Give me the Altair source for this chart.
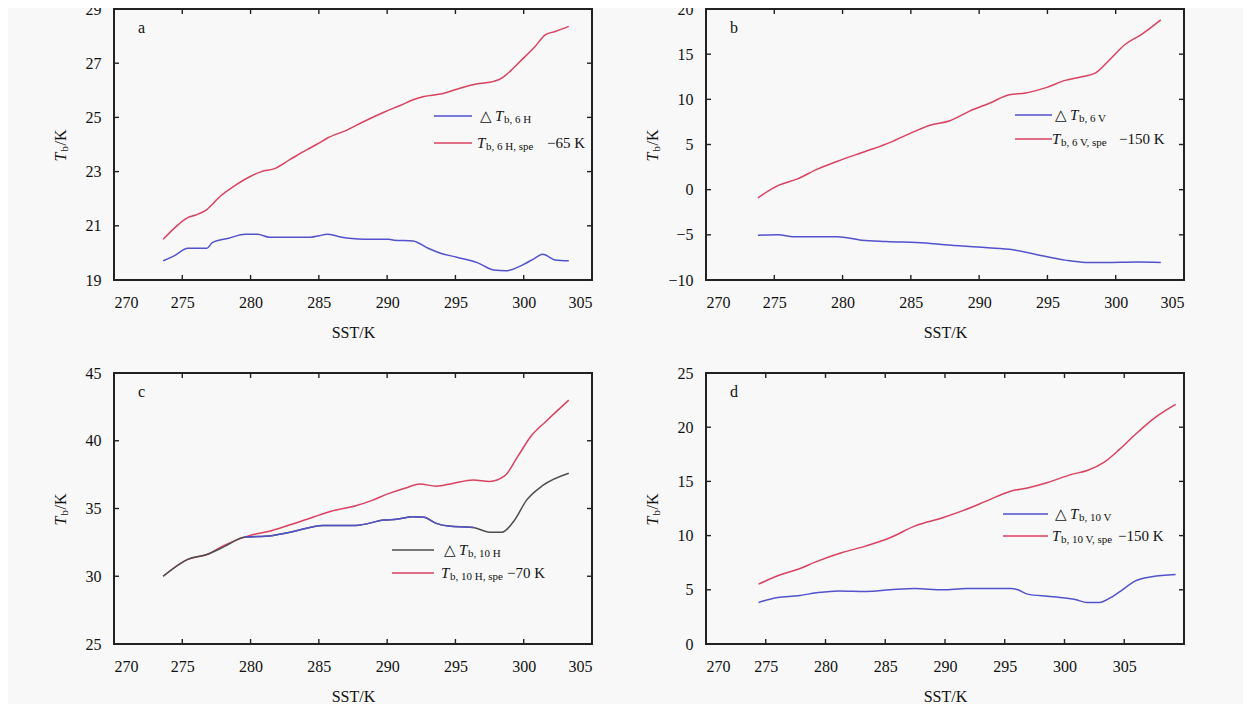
import altair as alt
import pandas as pd

# ---------------- data ----------------
a_spe_x = [273.6, 274.5, 275.4, 276.0, 276.8, 277.8, 278.9, 279.9, 280.8, 281.7, 282.9, 284.1, 285.0, 285.6,
           287.1, 288.3, 289.8, 291.0, 291.9, 292.7, 293.9, 295.1, 296.6, 297.8, 298.4, 299.0, 299.6, 300.8,
           301.6, 302.3, 303.3]
a_spe_y = [20.5, 20.95, 21.3, 21.4, 21.6, 22.1, 22.5, 22.8, 23.0, 23.1, 23.45, 23.8, 24.05, 24.23,
           24.54, 24.85, 25.2, 25.45, 25.65, 25.77, 25.86, 26.04, 26.24, 26.33, 26.45, 26.7, 27.0, 27.6,
           28.05, 28.17, 28.36]
a_dlt_x = [273.6, 274.5, 275.4, 276.8, 277.2, 278.4, 279.6, 280.5, 281.4, 282.9, 284.4, 285.0, 285.6, 286.5,
           287.4, 288.3, 290.1, 290.5, 291.9, 293.0, 293.9, 295.1, 296.6, 297.8, 298.7, 299.9, 300.8, 301.4,
           302.3, 303.3]
a_dlt_y = [19.71, 19.92, 20.17, 20.17, 20.38, 20.54, 20.69, 20.69, 20.58, 20.58, 20.58, 20.63, 20.69, 20.6,
           20.53, 20.5, 20.5, 20.47, 20.44, 20.17, 19.99, 19.84, 19.64, 19.37, 19.34, 19.55, 19.8, 19.95,
           19.74, 19.71]

b_spe_x = [273.8, 275.3, 276.7, 278.2, 279.9, 281.7, 283.5, 285.2, 286.4, 287.8, 289.3, 290.8, 292.2, 293.4,
           294.9, 296.3, 297.5, 298.5, 299.5, 300.7, 301.9, 303.3]
b_spe_y = [-0.9, 0.47, 1.2, 2.3, 3.3, 4.25, 5.24, 6.4, 7.14, 7.6, 8.7, 9.6, 10.5, 10.7,
           11.3, 12.1, 12.5, 12.9, 14.3, 16.1, 17.2, 18.8]
b_dlt_x = [273.8, 275.3, 276.4, 279.6, 281.4, 283.2, 286.1, 287.5, 289.9, 292.2, 294.9, 296.3, 297.8, 299.2,
           301.6, 303.3]
b_dlt_y = [-5.05, -5.0, -5.2, -5.2, -5.6, -5.75, -5.9, -6.1, -6.35, -6.6, -7.4, -7.8, -8.05, -8.05,
           -8.0, -8.05]

c_spe_x = [273.6, 275.4, 276.8, 278.1, 279.9, 281.3, 282.9, 284.4, 285.9, 287.7, 288.9, 290.1, 291.3, 292.4,
           293.6, 294.8, 296.3, 297.5, 298.6, 299.6, 300.5, 301.7, 303.3]
c_spe_y = [30.0, 31.25, 31.6, 32.3, 33.0, 33.3, 33.8, 34.3, 34.8, 35.2, 35.6, 36.1, 36.5, 36.8,
           36.65, 36.85, 37.1, 37.0, 37.4, 38.9, 40.3, 41.5, 43.0]
c_dlt_x = [273.6, 275.4, 276.8, 278.1, 279.6, 281.1, 282.9, 285.3, 287.7, 289.8, 290.7, 291.9, 292.7, 293.6,
           294.5, 296.3, 297.5, 298.4, 299.3, 300.2, 301.4, 303.3]
c_dlt_y = [30.0, 31.25, 31.6, 32.2, 32.9, 32.95, 33.25, 33.75, 33.75, 34.15, 34.2, 34.4, 34.35, 33.9,
           33.7, 33.6, 33.25, 33.25, 34.1, 35.6, 36.7, 37.6]

d_spe_x = [274.4, 276.0, 277.7, 279.4, 281.4, 283.4, 285.4, 287.5, 289.8, 291.5, 293.5, 295.5, 296.9, 298.6,
           300.6, 301.9, 303.3, 304.6, 305.9, 307.6, 309.3]
d_spe_y = [5.52, 6.3, 6.9, 7.67, 8.44, 9.05, 9.8, 10.9, 11.65, 12.3, 13.2, 14.1, 14.4, 14.9,
           15.65, 16.0, 16.75, 17.95, 19.3, 20.9, 22.1]
d_dlt_x = [274.4, 276.0, 277.7, 279.4, 281.1, 283.4, 285.4, 287.5, 289.8, 291.8, 294.1, 295.5, 296.1, 296.9,
           298.6, 299.6, 300.9, 301.9, 302.9, 303.9, 304.9, 305.9, 307.3, 309.3]
d_dlt_y = [3.83, 4.3, 4.45, 4.75, 4.9, 4.85, 5.0, 5.12, 5.0, 5.12, 5.12, 5.12, 5.0, 4.6,
           4.4, 4.3, 4.1, 3.83, 3.83, 4.3, 5.05, 5.8, 6.2, 6.4]

x_ticks = [270, 275, 280, 285, 290, 295, 300, 305]
a_y_ticks = [19, 21, 23, 25, 27, 29]
b_y_ticks = [-10, -5, 0, 5, 10, 15, 20]
c_y_ticks = [25, 30, 35, 40, 45]
d_y_ticks = [0, 5, 10, 15, 20, 25]

panel_letters = ["a", "b", "c", "d"]
delta_subs = ["b, 6 H", "b, 6 V", "b, 10 H", "b, 10 V"]
spe_subs = ["b, 6 H, spe", "b, 6 V, spe", "b, 10 H, spe", "b, 10 V, spe"]
spe_offsets = ["\u221265 K", "\u2212150 K", "\u221270 K", "\u2212150 K"]
x_title = "SST/K"

# ---------------- style ----------------
FONT = "Liberation Serif"
W, H = 478, 271
BLUE = "#5252cc"
RED = "#d9425f"
GRAY = "#4d4d4d"
FRAME = "#222222"
BG = "#f8f8f8"
TK = 5  # inward tick length


def one():
    return pd.DataFrame({"v": [0]})


def txt(s, x, y, size=15, italic=False, angle=0, dx=0, dy=0, align="left", baseline="middle"):
    props = dict(text=s, font=FONT, fontSize=size, align=align, baseline=baseline,
                 color="#111111", dx=dx, dy=dy)
    if italic:
        props["fontStyle"] = "italic"
    if angle:
        props["angle"] = angle
    return alt.Chart(one()).mark_text(**props).encode(x=alt.value(x), y=alt.value(y))


def hline(x1, x2, y, color, width=1.6):
    return alt.Chart(one()).mark_rule(color=color, strokeWidth=width).encode(
        x=alt.value(x1), x2=alt.value(x2), y=alt.value(y))


def box(x1, x2, y1, y2, color):
    return alt.Chart(one()).mark_rect(color=color, opacity=1).encode(
        x=alt.value(x1), x2=alt.value(x2), y=alt.value(y1), y2=alt.value(y2))


def panel(i, sx, sy, dx_, dy_, xdom, ydom, yticks, leg, delta_color, blue_range=None):
    xs = alt.Scale(domain=xdom, nice=False, zero=False)
    ys = alt.Scale(domain=ydom, nice=False, zero=False)
    xax = alt.Axis(values=x_ticks, format="d", title=x_title, grid=False, domain=False, ticks=False,
                   labelPadding=14, titlePadding=14)
    yax = alt.Axis(values=yticks, format="d", title=None, grid=False, domain=False, ticks=False,
                   labelPadding=13)

    spe = pd.DataFrame({"x": sx, "y": sy})
    dlt = pd.DataFrame({"x": dx_, "y": dy_})
    xt = pd.DataFrame({"t": x_ticks})
    yt = pd.DataFrame({"t": yticks})
    tick = dict(color=FRAME, thickness=1.4, size=TK, opacity=1)

    layers = []
    # frame drawn as a dark box with the plot-coloured box on top of it
    layers.append(box(-1, W + 1, -1, H + 1, FRAME))
    layers.append(box(1, W - 1, 1, H - 1, BG))

    # inward ticks on all four sides
    layers.append(alt.Chart(xt).mark_tick(**tick).encode(
        x=alt.X("t:Q", scale=xs, axis=xax), y=alt.value(H - TK / 2)))
    layers.append(alt.Chart(xt).mark_tick(**tick).encode(
        x=alt.X("t:Q", scale=xs), y=alt.value(TK / 2)))
    layers.append(alt.Chart(yt).mark_tick(**tick).encode(
        y=alt.Y("t:Q", scale=ys, axis=yax), x=alt.value(TK / 2)))
    layers.append(alt.Chart(yt).mark_tick(**tick).encode(
        y=alt.Y("t:Q", scale=ys), x=alt.value(W - TK / 2)))

    layers.append(alt.Chart(spe).mark_line(color=RED, strokeWidth=1.5, interpolate="monotone").encode(
        x=alt.X("x:Q", scale=xs), y=alt.Y("y:Q", scale=ys)))
    layers.append(alt.Chart(dlt).mark_line(color=delta_color, strokeWidth=1.5, interpolate="monotone").encode(
        x=alt.X("x:Q", scale=xs), y=alt.Y("y:Q", scale=ys)))
    if blue_range is not None:
        layers.append(alt.Chart(dlt).transform_filter(
            (alt.datum.x >= blue_range[0]) & (alt.datum.x <= blue_range[1])
        ).mark_line(color=BLUE, strokeWidth=1.5, interpolate="monotone").encode(
            x=alt.X("x:Q", scale=xs), y=alt.Y("y:Q", scale=ys)))

    # panel letter
    layers.append(txt(panel_letters[i], 24, 19, size=16))

    # y-axis title  T_b/K  (rotated)
    layers.append(txt("T", -53, H / 2, size=16, italic=True, angle=270, dx=-17))
    layers.append(txt("b", -53, H / 2, size=11, angle=270, dx=-7, dy=4))
    layers.append(txt("/K", -53, H / 2, size=16, angle=270, dx=-1))

    # legend
    lx1, lx2, ly1, ly2, tx, ox = leg
    layers.append(hline(lx1, lx2, ly1, delta_color))
    layers.append(hline(lx1, lx2, ly2, RED))
    layers.append(txt("\u25b3", tx, ly1, size=15))
    layers.append(txt("T", tx + 15, ly1, size=15, italic=True))
    layers.append(txt(delta_subs[i], tx + 24, ly1 + 4, size=11))
    layers.append(txt("T", tx - 3, ly2, size=15, italic=True))
    layers.append(txt(spe_subs[i], tx + 6, ly2 + 4, size=11))
    layers.append(txt(spe_offsets[i], ox, ly2, size=15))

    return alt.layer(*layers).properties(width=W, height=H)


pa = panel(0, a_spe_x, a_spe_y, a_dlt_x, a_dlt_y, [270, 305], [19, 29], a_y_ticks,
           (320, 358, 107, 134, 366, 433), BLUE)
pb = panel(1, b_spe_x, b_spe_y, b_dlt_x, b_dlt_y, [270, 305], [-10, 20], b_y_ticks,
           (309, 346, 106, 130, 349, 413), BLUE)
pc = panel(2, c_spe_x, c_spe_y, c_dlt_x, c_dlt_y, [270, 305], [25, 45], c_y_ticks,
           (278, 320, 177, 200, 330, 393), GRAY, blue_range=(279.6, 296.3))
pd_ = panel(3, d_spe_x, d_spe_y, d_dlt_x, d_dlt_y, [270, 310], [0, 25], d_y_ticks,
            (297, 342, 141, 163, 349, 412), BLUE)

row1 = alt.hconcat(pa, pb, spacing=52)
row2 = alt.hconcat(pc, pd_, spacing=52)
chart = alt.vconcat(row1, row2, spacing=25).properties(
    background=BG,
    padding={"left": 45, "top": -7, "right": 58, "bottom": 0},
).configure_view(
    strokeWidth=0, fill=BG
).configure_axis(
    labelFont=FONT, labelFontSize=16, labelColor="#111111",
    titleFont=FONT, titleFontSize=16, titleFontWeight="normal", titleColor="#111111",
)

chart.save("out.html", embed_options={"renderer": "svg", "actions": False})
